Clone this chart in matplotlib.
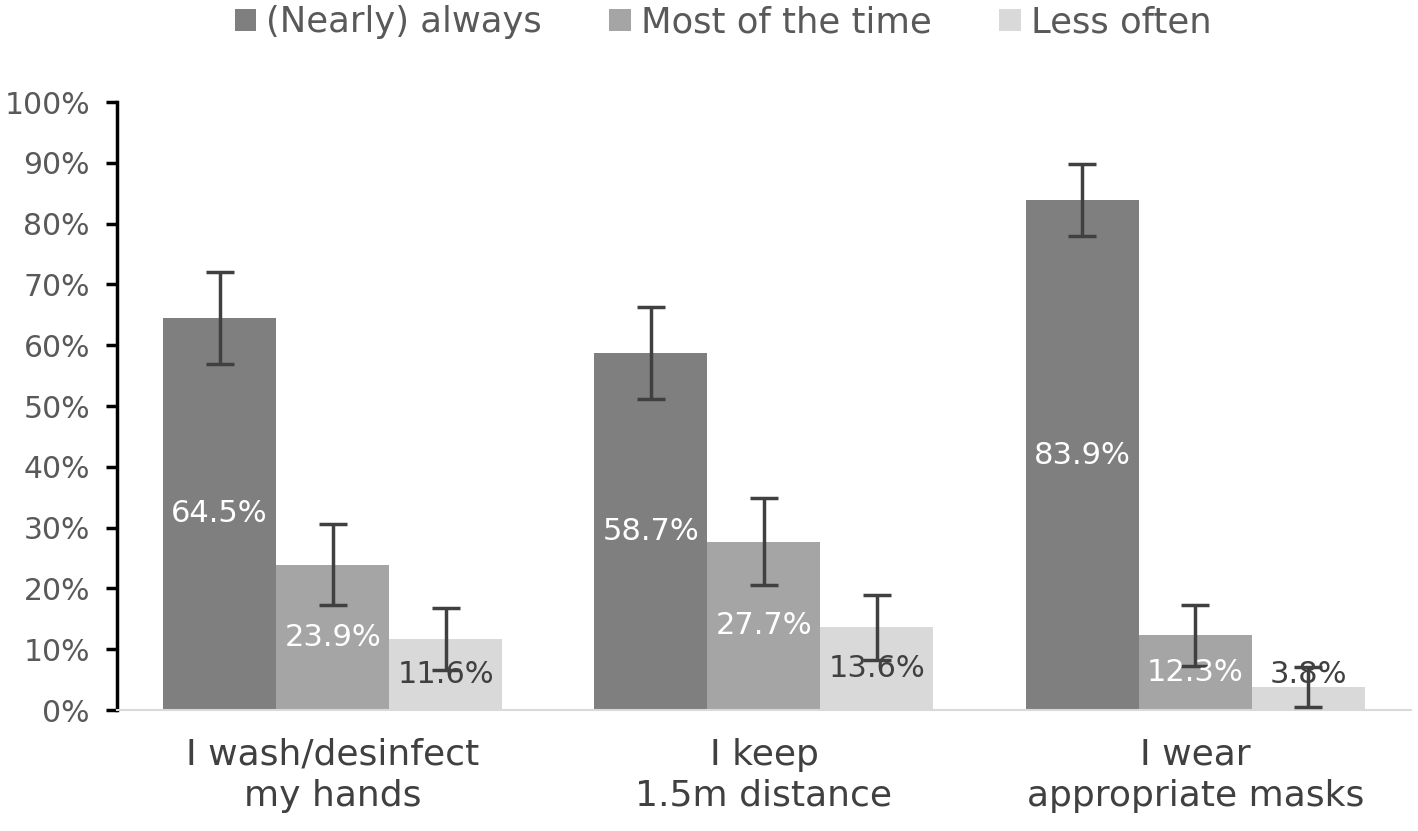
import matplotlib
matplotlib.use("Agg")
import matplotlib.pyplot as plt
import numpy as np
from matplotlib.patches import Patch
from matplotlib.ticker import FuncFormatter

plt.rcParams["font.family"] = ["DejaVu Sans"]

CATEGORIES = ["I wash/desinfect\nmy hands", "I keep\n1.5m distance", "I wear\nappropriate masks"]
SERIES = ["(Nearly) always", "Most of the time", "Less often"]
VALUES = [
    [64.5, 58.7, 83.9],
    [23.9, 27.7, 12.3],
    [11.6, 13.6, 3.8],
]
ERRORS = [
    [7.6, 7.6, 5.9],
    [6.7, 7.2, 5.0],
    [5.1, 5.3, 3.3],
]
COLORS = ["#7f7f7f", "#a5a5a5", "#d9d9d9"]
LABEL_COLORS = ["white", "white", "#404040"]
TEXT_GREY = "#595959"

fig = plt.figure(figsize=(14.18, 8.31), dpi=100)
ax = fig.add_axes([0.0825, 0.1456, 0.9125, 0.7315])

x = np.arange(len(CATEGORIES))
width = 0.262
for i, (name, vals, errs) in enumerate(zip(SERIES, VALUES, ERRORS)):
    pos = x + (i - 1) * width
    ax.bar(pos, vals, width, color=COLORS[i], label=name, zorder=2)
    ax.errorbar(pos, vals, yerr=errs, fmt="none", ecolor="#404040",
                elinewidth=2.5, capsize=10, capthick=2.5, zorder=3)
    for p, v in zip(pos, vals):
        ax.text(p, max(v / 2, 5.9), f"{v:.1f}%", ha="center", va="center",
                fontsize=22, color=LABEL_COLORS[i], zorder=4)

ax.set_xlim(-0.5, 2.5)
ax.set_ylim(0, 100)
ax.set_yticks(np.arange(0, 101, 10))
ax.yaxis.set_major_formatter(FuncFormatter(lambda v, _: f"{v:.0f}%"))
ax.tick_params(axis="y", direction="out", length=8, width=2.5, color="black",
               labelsize=21.5, labelcolor=TEXT_GREY, pad=11.5)
ax.set_xticks(x)
ax.set_xticklabels(CATEGORIES, fontsize=26, color="#404040", linespacing=1.25)
ax.tick_params(axis="x", length=0, pad=20)

for side in ["top", "right"]:
    ax.spines[side].set_visible(False)
ax.spines["left"].set_linewidth(2.5)
ax.spines["left"].set_color("black")
ax.spines["bottom"].set_color("#d9d9d9")
ax.spines["bottom"].set_linewidth(1.5)

handles = [Patch(facecolor=c, label=s) for c, s in zip(COLORS, SERIES)]
fig.legend(handles=handles, loc="center", bbox_to_anchor=(0.51, 0.973), ncol=3,
           frameon=False, fontsize=25.5, labelcolor=TEXT_GREY, handlelength=0.6,
           handleheight=0.6, handletextpad=0.3, columnspacing=1.9)

fig.savefig("out.png", dpi=100)
